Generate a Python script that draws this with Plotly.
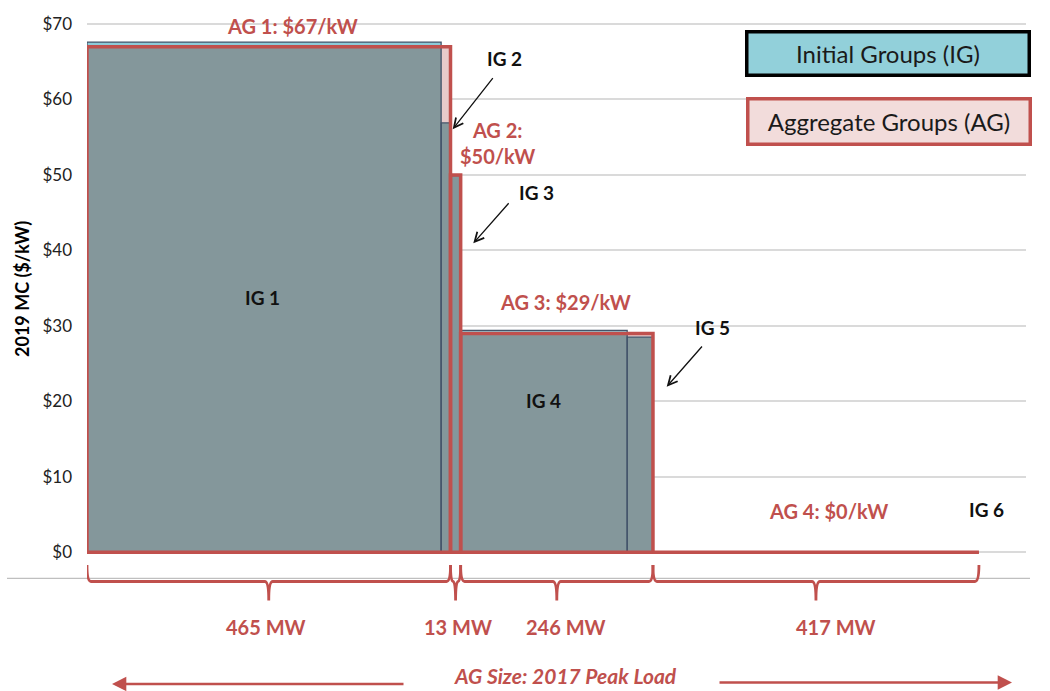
import plotly.graph_objects as go

# ---- data -------------------------------------------------------------
# Initial groups (IG): width along the load axis (MW) and 2019 marginal cost ($/kW)
ig_names = ["IG 1", "IG 2", "IG 3", "IG 4", "IG 5", "IG 6"]
ig_mw = [453, 12, 13, 213, 33, 417]
ig_cost = [67.6, 56.9, 49.9, 29.4, 28.5, 0.0]
ig_parent = [0, 0, 1, 2, 2, 3]          # aggregate group each IG belongs to

# Aggregate groups (AG): size = 2017 peak load (MW), cost ($/kW)
ag_names = ["AG 1", "AG 2", "AG 3", "AG 4"]
ag_mw = [465, 13, 246, 417]
ag_cost = [67, 50, 29, 0]

y_ticks = [0, 10, 20, 30, 40, 50, 60, 70]
y_ticktext = ["$0", "$10", "$20", "$30", "$40", "$50", "$60", "$70"]

# ---- colours / fonts --------------------------------------------------
RED = "#C0504D"
PINK = "#E8CBCB"
CYAN = "#8DCBD8"
SLATE = "#84979B"
NAVY = "#44546A"
FONT = "Lato"

# ---- page geometry ----------------------------------------------------
W, H = 1050, 691
PL, PR = 87, 1026                 # plot area left / right (px)
PX_PER_MW = 363.5 / 465
Y0_PX, PX_PER_USD = 552.3, 7.547  # pixel row of $0 and px per $

x_max = (PR - PL) / PX_PER_MW
y_lo = -(H - Y0_PX) / PX_PER_USD
y_hi = Y0_PX / PX_PER_USD


def paper(xp, yp):
    """page pixel -> paper fraction"""
    return (xp - PL) / (PR - PL), 1 - yp / H


def edges(widths):
    left, out = 0.0, []
    for w in widths:
        out.append((left, left + w))
        left += w
    return out


ig_edges = edges(ig_mw)
ag_edges = edges(ag_mw)
ig_center = [(a + b) / 2 for a, b in ig_edges]
ag_center = [(a + b) / 2 for a, b in ag_edges]
overlap = [min(c, ag_cost[p]) for c, p in zip(ig_cost, ig_parent)]


def outline(edge_list, values):
    xs, ys = [], []
    for (a, b), v in zip(edge_list, values):
        xs += [a, a, b, b, a, None]
        ys += [0, v, v, 0, 0, None]
    return xs, ys


fig = go.Figure()

# filled areas: AG (pink), IG (cyan), and their common part (slate)
fig.add_trace(go.Bar(x=ag_center, y=ag_cost, width=ag_mw, marker=dict(color=PINK, line_width=0),
                     hoverinfo="skip", showlegend=False))
fig.add_trace(go.Bar(x=ig_center, y=ig_cost, width=ig_mw, marker=dict(color=CYAN, line_width=0),
                     hoverinfo="skip", showlegend=False))
fig.add_trace(go.Bar(x=ig_center, y=overlap, width=ig_mw, marker=dict(color=SLATE, line_width=0),
                     hovertext=ig_names, showlegend=False))

# outlines
xs, ys = outline(ig_edges, ig_cost)
fig.add_trace(go.Scatter(x=xs, y=ys, mode="lines", line=dict(color=NAVY, width=1.3),
                         hoverinfo="skip", showlegend=False))
xs, ys = outline(ag_edges, ag_cost)
fig.add_trace(go.Scatter(x=xs, y=ys, mode="lines", line=dict(color=RED, width=3.5),
                         hoverinfo="skip", showlegend=False))

shapes = []
# horizontal baseline under the chart
bx0, _ = paper(7, 0)
bx1, _ = paper(1030, 0)
shapes.append(dict(type="line", xref="paper", yref="y", x0=bx0, x1=bx1,
                   y0=(Y0_PX - 578.3) / PX_PER_USD, y1=(Y0_PX - 578.3) / PX_PER_USD,
                   line=dict(color="#BFBFBF", width=1.2), layer="below"))

# curly braces spanning each aggregate group
yt = (Y0_PX - 565) / PX_PER_USD
yh = (Y0_PX - 581.5) / PX_PER_USD
yb = (Y0_PX - 600.5) / PX_PER_USD
for a, b in ag_edges:
    m = (a + b) / 2
    r = min(4 / PX_PER_MW, (b - a) / 4)
    path = (f"M{a},{yt} Q{a},{yh} {a + r},{yh} L{m - r},{yh} Q{m},{yh} {m},{yb} "
            f"M{m},{yb} Q{m},{yh} {m + r},{yh} L{b - r},{yh} Q{b},{yh} {b},{yt}")
    shapes.append(dict(type="path", xref="x", yref="y", path=path,
                       line=dict(color=RED, width=2.8)))

ann = []


def text_at(xp, yp, txt, size, color, **kw):
    px_, py_ = paper(xp, yp)
    opts = dict(xanchor="center", yanchor="middle")
    opts.update(kw)
    ann.append(dict(x=px_, y=py_, xref="paper", yref="paper", text=txt, showarrow=False,
                    font=dict(family=FONT, size=size, color=color), **opts))


# AG cost labels
ag_label_px = [(292, 26), (497, 143), (565, 302), (828, 511)]
for name, cost, (xp, yp) in zip(ag_names, ag_cost, ag_label_px):
    sep = "<br>" if name == "AG 2" else " "
    text_at(xp, yp, f"<b>{name}:{sep}${cost}/kW</b>", 20, RED)

# IG labels
ig_label_px = [(262, 297), (504, 59), (536, 192), (543, 400), (712, 327), (986, 509)]
for name, (xp, yp) in zip(ig_names, ig_label_px):
    text_at(xp, yp, f"<b>{name}</b>", 19, "#111111")

# AG sizes under the braces
mw_shift = [-3, 2, 9, 20]
for (a, b), mw, s in zip(ag_edges, ag_mw, mw_shift):
    ann.append(dict(x=(a + b) / 2, y=(Y0_PX - 627) / PX_PER_USD, xref="x", yref="y",
                    text=f"<b>{mw} MW</b>", showarrow=False, xshift=s,
                    font=dict(family=FONT, size=20, color=RED)))

# pointer arrows to the thin groups
for (tx, ty), (sx, sy) in [((452.7, 129.3), (494, 76.7)),
                           ((473.3, 243.3), (510, 201.7)),
                           ((666.7, 386.7), (703.3, 345))]:
    px_, py_ = paper(tx, ty)
    ann.append(dict(x=px_, y=py_, xref="paper", yref="paper", text="", showarrow=True,
                    ax=sx - tx, ay=sy - ty, arrowhead=5, arrowsize=1.4, arrowwidth=1.3,
                    arrowcolor="#111111"))

# bottom axis caption with arrows
text_at(565, 690, "<b><i>AG Size: 2017 Peak Load</i></b>", 21, RED, yanchor="bottom")
for (tx, ty), (sx, sy) in [((112, 684), (405, 684)), ((1012, 682.5), (718, 682.5))]:
    px_, py_ = paper(tx, ty)
    ann.append(dict(x=px_, y=py_, xref="paper", yref="paper", text="", showarrow=True,
                    ax=sx - tx, ay=sy - ty, arrowhead=2, arrowsize=1.1, arrowwidth=2.6,
                    arrowcolor=RED))

# key boxes
text_at(887.5, 53, "Initial Groups (IG)", 24, "#1a1a1a",
        bgcolor="#92D0DA", bordercolor="#000000", borderwidth=3.5, borderpad=0,
        width=279, height=40)
text_at(888.5, 121.5, "Aggregate Groups (AG)", 24, "#1a1a1a",
        bgcolor="#F2DCDB", bordercolor=RED, borderwidth=3.5, borderpad=0,
        width=279, height=42)

# y-axis title
text_at(22, 289, "<b>2019 MC ($/kW)</b>", 18, "#000000", textangle=-90)

fig.update_layout(
    width=W, height=H, autosize=False,
    margin=dict(l=PL, r=W - PR, t=0, b=0, pad=0),
    plot_bgcolor="white", paper_bgcolor="white",
    barmode="overlay",
    shapes=shapes, annotations=ann,
    showlegend=False,
    xaxis=dict(range=[0, x_max], visible=False, showgrid=False, zeroline=False, fixedrange=True),
    yaxis=dict(range=[y_lo, y_hi], tickvals=y_ticks, ticktext=y_ticktext,
               showgrid=True, gridcolor="#DADADA", gridwidth=1.5, zeroline=False,
               showline=False, ticks="", ticklabelstandoff=14,
               tickfont=dict(family=FONT, size=17, color="#222222"), fixedrange=True),
)

fig.write_html("out.html")
